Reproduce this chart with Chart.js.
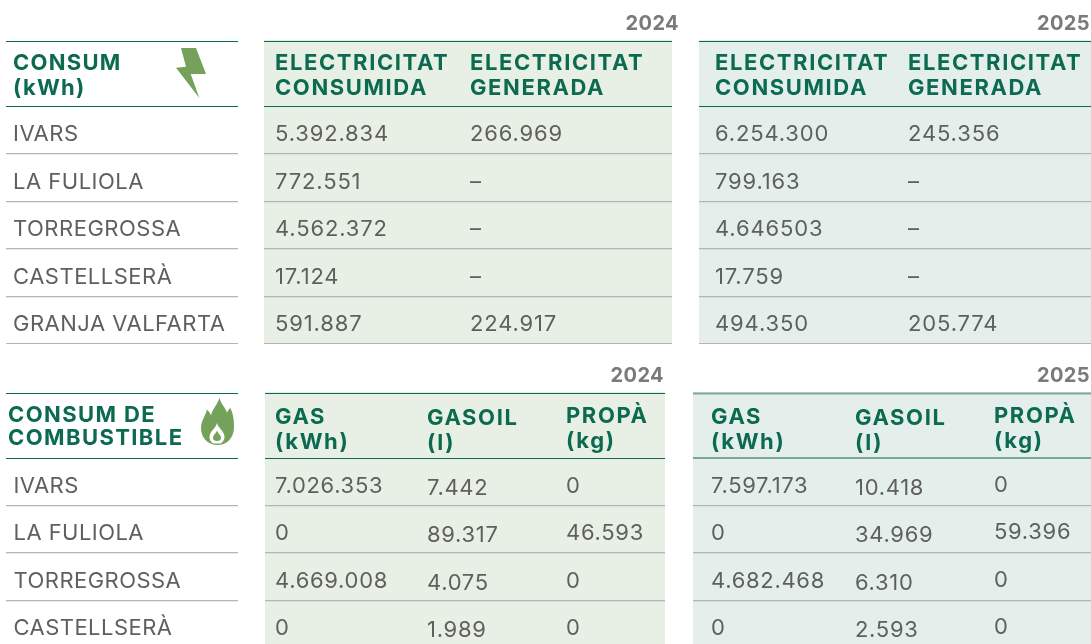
<!DOCTYPE html>
<html>
<head>
<meta charset="utf-8">
<title>Consum</title>
<script src="https://cdn.jsdelivr.net/npm/chart.js@4"></script>
<style>
  html,body{margin:0;padding:0;background:#fff;width:1091px;height:644px;overflow:hidden}
  canvas{position:absolute;display:block}
</style>
</head>
<body>
<script>
// Dades
const years = ['2024', '2025'];
const plantsEnergy = ['IVARS', 'LA FULIOLA', 'TORREGROSSA', 'CASTELLSERÀ', 'GRANJA VALFARTA'];
const plantsFuel = ['IVARS', 'LA FULIOLA', 'TORREGROSSA', 'CASTELLSERÀ'];

const titleEnergy = ['CONSUM', '(kWh)'];
const titleFuel = ['CONSUM DE', 'COMBUSTIBLE'];
const headersEnergy = [['ELECTRICITAT', 'CONSUMIDA'], ['ELECTRICITAT', 'GENERADA']];
const headersFuel = [['GAS', '(kWh)'], ['GASOIL', '(l)'], ['PROPÀ', '(kg)']];

const consumida2024 = ['5.392.834', '772.551', '4.562.372', '17.124', '591.887'];
const generada2024 = ['266.969', '–', '–', '–', '224.917'];
const consumida2025 = ['6.254.300', '799.163', '4.646503', '17.759', '494.350'];
const generada2025 = ['245.356', '–', '–', '–', '205.774'];

const gas2024 = ['7.026.353', '0', '4.669.008', '0'];
const gasoil2024 = ['7.442', '89.317', '4.075', '1.989'];
const propa2024 = ['0', '46.593', '0', '0'];
const gas2025 = ['7.597.173', '0', '4.682.468', '0'];
const gasoil2025 = ['10.418', '34.969', '6.310', '2.593'];
const propa2025 = ['0', '59.396', '0', '0'];

const GREEN = '#0b6a4f', GREY = '#5f5f5f', RULE = '#b4b4b4', ICON = '#74a25a';
const FONT = 'Inter, sans-serif';
const BOLT = new Path2D('M5 0H20L30 26H14.7L23.3 50L0 19.7L10 18.7Z');
const FLAME = 'M18.5 0C20 6 24 9 26 14.5C27.5 12.5 28.5 11 29 9.5C32 15 33 21 33 29C33 40 26 47 16.5 47C7 47 0 40 0 30C0 23 4 19 6 11.5C8 13.5 9 15 10 17.5C11.5 11 16 7 18.5 0Z';
const FLAME_IN = 'M16 25C17 30 23.5 33 23.5 39C23.5 42 21.5 44.5 19.5 45.5H12.5C10 44.5 8.5 42 8.5 39C8.5 33 14.5 31 16 25ZM16 32.5C15 35.5 12 37 12 40C12 42 13.5 43 16 43C18.5 43 20 42 20 40C20 37 17 35.5 16 32.5Z';

const tablePlugin = {
  id: 'tablePlugin',
  beforeDraw(chart, args, o) {
    const {ctx, chartArea: a} = chart;
    ctx.save();
    if (o.fill) {
      ctx.fillStyle = o.fill;
      ctx.fillRect(a.left, o.headTop - 1, a.width + (o.fillExtra || 0), chart.height);
    }
    ctx.restore();
  },
  afterDraw(chart, args, o) {
    const {ctx, chartArea: a} = chart;
    ctx.save();
    ctx.fontKerning = 'normal';
    // linia superior de la capcalera
    ctx.strokeStyle = o.headLine || GREEN;
    ctx.lineWidth = o.headWidth || 1;
    ctx.beginPath();
    ctx.moveTo(a.left, o.headTop + .5);
    ctx.lineTo(a.right, o.headTop + .5);
    ctx.stroke();

    if (o.year) {
      ctx.font = '700 20px ' + FONT;
      ctx.fillStyle = '#7a7a7a';
      ctx.textAlign = 'right';
      ctx.textBaseline = 'alphabetic';
      ctx.letterSpacing = '0.4px';
      ctx.fillText(o.year, o.yearRight, o.headTop - 11);
    }

    // capcaleres
    ctx.font = '700 ' + o.headSize + 'px ' + FONT;
    ctx.fillStyle = GREEN;
    ctx.textAlign = 'left';
    ctx.textBaseline = 'alphabetic';
    ctx.letterSpacing = o.headSpacing;
    const scaleX = chart.scales.x;
    o.headers.forEach((lines, c) => {
      lines.forEach((t, l) => {
        ctx.fillText(t, scaleX.getPixelForValue(o.headCols ? o.headCols[c] : o.cols[c]), o.headTop + o.headBase + l * o.headLead + (o.headDy ? o.headDy[c] : 0));
      });
    });

    // cel·les
    ctx.font = '400 ' + o.cellSize + 'px ' + FONT;
    ctx.fillStyle = GREY;
    chart.data.datasets.forEach((ds, c) => {
      ctx.letterSpacing = o.cellSpacing;
      chart.getDatasetMeta(c).data.forEach((pt, r) => {
        ctx.fillText(ds.labels[r], pt.x, pt.y + 11 + (o.cellDy ? o.cellDy[c] : 0));
      });
    });

    if (o.icon) o.icon(ctx);
    ctx.restore();
  }
};

function makeTable(t) {
  const canvas = document.createElement('canvas');
  canvas.width = t.width + (t.padRight || 0);
  canvas.height = t.height;
  canvas.style.left = t.left + 'px';
  canvas.style.top = t.top + 'px';
  document.body.appendChild(canvas);
  new Chart(canvas.getContext('2d'), {
    type: 'scatter',
    data: {
      datasets: t.series.map((vals, c) => ({
        labels: vals,
        data: t.rows.map(r => ({x: t.cols[c], y: r})),
        pointRadius: 0
      }))
    },
    options: {
      responsive: false,
      animation: false,
      layout: {padding: {top: t.padTop, right: t.padRight || 0, left: 0, bottom: 0}},
      plugins: {
        legend: {display: false},
        tooltip: {enabled: false},
        tablePlugin: {
          fill: t.fill, headTop: t.headTop, headers: t.headers, cols: t.cols, headCols: t.headCols,
          year: t.year, yearRight: t.yearRight, icon: t.icon,
          headLine: t.headLine, headWidth: t.headWidth,
          headSize: t.headSize || 22, headSpacing: t.headSpacing || '1.6px',
          headBase: t.headBase, headLead: t.headLead || 25.5, headDy: t.headDy,
          cellSize: 22, cellSpacing: t.cellSpacing || '0.85px', cellDy: t.cellDy
        }
      },
      scales: {
        x: {type: 'linear', display: false, min: 0, max: t.width},
        y: {
          type: 'category',
          labels: t.rows,
          offset: true,
          border: {display: false},
          ticks: {display: false},
          afterFit: s => { s.width = 0; },
          grid: {
            offset: true,
            drawTicks: false,
            color: c => c.index === 0 ? (t.headLine || GREEN) : RULE,
            lineWidth: c => c.index === 0 ? (t.headWidth || 1) : 1.2
          }
        }
      }
    },
    plugins: [tablePlugin]
  });
}

const boltIcon = ctx => {
  ctx.fillStyle = ICON;
  ctx.translate(170, 48);
  ctx.fill(BOLT);
};
const flameIcon = ctx => {
  ctx.fillStyle = ICON;
  ctx.translate(195, 43);
  ctx.fill(new Path2D(FLAME));
  ctx.fillStyle = '#fff';
  ctx.fill(new Path2D(FLAME_IN), 'evenodd');
};

const energyTop = {top: 0, height: 344.5, padTop: 106.5, headTop: 41, headBase: 28.5, rows: plantsEnergy};
const fuelTop = {top: 355, height: 293, padTop: 103, headTop: 38, headBase: 30.5, rows: plantsFuel};

makeTable({...energyTop, left: 6, width: 232, cols: [7], headCols: [7], series: [plantsEnergy], headers: [titleEnergy], icon: boltIcon, cellSpacing: '0.5px', headSpacing: '1.25px'});
makeTable({...energyTop, left: 264, width: 408, padRight: 8, fill: '#e8f0e6', year: years[0], yearRight: 415,
  cols: [11, 206], series: [consumida2024, generada2024], headers: headersEnergy});
makeTable({...energyTop, left: 699, width: 392, fill: '#e4efeb', year: years[1], yearRight: 391,
  cols: [16, 209], series: [consumida2025, generada2025], headers: headersEnergy});

makeTable({...fuelTop, left: 6, width: 232, cols: [7.5], headCols: [2], series: [plantsFuel], headers: [titleFuel], icon: flameIcon, cellSpacing: '0.45px', headSpacing: '1.4px', headBase: 28.5, headLead: 23});
makeTable({...fuelTop, left: 265, width: 400, padRight: 13, fill: '#e8f0e6', fillExtra: 1, year: years[0], yearRight: 399,
  cols: [10, 162, 301], series: [gas2024, gasoil2024, propa2024], headers: headersFuel, cellDy: [0, 2, 0], headDy: [0, 1, -1], headLead: 25, cellSpacing: '0.7px'});
makeTable({...fuelTop, left: 693, width: 398, fill: '#e4efeb', year: years[1], yearRight: 397, headLine: '#7aa998', headWidth: 2,
  cols: [18, 162, 301], series: [gas2025, gasoil2025, propa2025], headers: headersFuel, cellDy: [0, 2, -1], headDy: [0, 1, -1], headLead: 25, cellSpacing: '0.7px'});
</script>
</body>
</html>
